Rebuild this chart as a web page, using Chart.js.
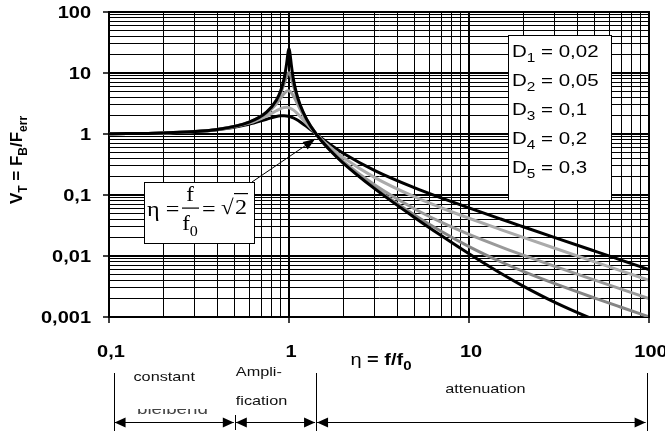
<!DOCTYPE html>
<html>
<head>
<meta charset="utf-8">
<script src="https://cdn.jsdelivr.net/npm/chart.js@4.4.1/dist/chart.umd.min.js"></script>
<style>
  html, body { margin: 0; padding: 0; background: #fff; }
  #c { display: block; }
</style>
</head>
<body>
<canvas id="c" width="665" height="434"></canvas>
<script>
// frequency ratio eta = f/f0 (x values)
var eta = [0.1, 0.2, 0.4, 0.6, 0.75, 0.85, 0.9, 0.94, 0.97, 0.99, 1.0, 1.01, 1.03, 1.06, 1.1,
           1.15, 1.25, 1.414, 1.7, 2, 3, 5, 7, 10, 15, 20, 30, 50, 70, 100];

// damping ratios and transmissibility V_T
var damping = [0.02, 0.05, 0.1, 0.2, 0.3];
var vtD1 = [1.010, 1.042, 1.190, 1.562, 2.281, 3.579, 5.175, 8.181, 14.16, 22.58, 25.02, 22.18, 13.61, 7.660, 4.665,
            3.073, 1.773, 1.000, 0.530, 0.3343, 0.1259, 0.04249, 0.02163, 0.01088, 0.005206, 0.003210, 0.001738, 0.000895, 0.000607, 0.000412];
var vtD2 = [1.010, 1.042, 1.190, 1.559, 2.259, 3.458, 4.776, 6.713, 8.845, 9.951, 10.05, 9.760, 8.402, 6.176, 4.244,
            2.940, 1.749, 1.000, 0.5345, 0.3392, 0.1304, 0.04658, 0.02543, 0.01428, 0.008048, 0.005604, 0.003518, 0.002040, 0.001443, 0.001005];
var vtD3 = [1.010, 1.042, 1.189, 1.547, 2.186, 3.117, 3.882, 4.602, 5.023, 5.123, 5.099, 5.026, 4.753, 4.166, 3.367,
            2.590, 1.675, 1.000, 0.5500, 0.3559, 0.1454, 0.05888, 0.03583, 0.02258, 0.01412, 0.01033, 0.006766, 0.004022, 0.002865, 0.002003];
var vtD4 = [1.010, 1.041, 1.184, 1.505, 1.968, 2.407, 2.611, 2.714, 2.733, 2.713, 2.693, 2.666, 2.597, 2.459, 2.241,
            1.959, 1.486, 1.000, 0.6021, 0.4125, 0.1931, 0.09285, 0.06184, 0.04161, 0.02715, 0.02020, 0.01339, 0.008013, 0.005719, 0.004002];
var vtD5 = [1.010, 1.041, 1.177, 1.447, 1.747, 1.933, 1.985, 1.994, 1.978, 1.957, 1.944, 1.929, 1.893, 1.829, 1.730,
            1.595, 1.333, 1.000, 0.6651, 0.4834, 0.2511, 0.1307, 0.08960, 0.06133, 0.04039, 0.03017, 0.02005, 0.01201, 0.008575, 0.006001];
var lineColors = ['#000000', '#858585', '#9a9a9a', '#ababab', '#000000'];

// tick labels
var yTickValues = [0.001, 0.01, 0.1, 1, 10, 100];
var yTickLabels = ['0,001', '0,01', '0,1', '1', '10', '100'];
var xTickValues = [0.1, 1, 10, 100];
var xTickLabels = ['0,1', '1', '10', '100'];

// ranges marked under the axis
var regionBounds = [0.106, 0.5, 1.414, 97];
var regionNames = ['constant', 'Ampli-|fication', 'attenuation'];

var SX = 1.25; // text in the picture is a bit wide
var SANS = '"Liberation Sans", Arial, sans-serif';
var SERIF = '"Liberation Serif", "Times New Roman", serif';

function isDecade(v) {
  var l = Math.log10(v);
  return Math.abs(l - Math.round(l)) < 1e-9;
}
function logGrid(lo, hi) {
  var out = [];
  for (var e = Math.round(Math.log10(lo)); e < Math.round(Math.log10(hi)); e++) {
    for (var k = 1; k < 10; k++) out.push({ value: +(k * Math.pow(10, e)).toPrecision(6) });
  }
  out.push({ value: hi });
  return out;
}
function fmtComma(v) { return String(v).replace('.', ','); }

// draw text made of [text, isSub] parts, x aligned per align, y = baseline
function rich(ctx, parts, x, y, size, o) {
  o = o || {};
  var sx = o.sx == null ? SX : o.sx;
  var fam = o.family || SANS;
  var w = o.bold ? 'bold ' : '';
  ctx.save();
  ctx.translate(x, y);
  if (o.rot) ctx.rotate(o.rot);
  ctx.scale(sx, 1);
  ctx.fillStyle = o.color || '#000';
  ctx.textBaseline = 'alphabetic';
  ctx.textAlign = 'left';
  var fonts = parts.map(function (p) {
    var pw = p[2] != null ? p[2] : w;
    return pw + (p[1] ? Math.round(size * 0.72) : size) + 'px ' + fam;
  });
  var total = 0;
  parts.forEach(function (p, i) { ctx.font = fonts[i]; total += ctx.measureText(p[0]).width; });
  var cx = o.align === 'center' ? -total / 2 : o.align === 'right' ? -total : 0;
  parts.forEach(function (p, i) {
    ctx.font = fonts[i];
    ctx.fillText(p[0], cx, p[1] ? size * 0.32 : 0);
    cx += ctx.measureText(p[0]).width;
  });
  ctx.restore();
}

function arrowHead(ctx, x, y, dir) {
  ctx.beginPath();
  ctx.moveTo(x, y);
  ctx.lineTo(x - dir * 11, y - 5);
  ctx.lineTo(x - dir * 11, y + 5);
  ctx.closePath();
  ctx.fill();
}

var decor = {
  id: 'decor',
  afterDatasetsDraw: function (chart) {
    var ctx = chart.ctx, a = chart.chartArea;
    var xs = chart.scales.x, ys = chart.scales.y;
    ctx.save();
    // top / right frame
    ctx.strokeStyle = '#000';
    ctx.lineWidth = 2;
    ctx.beginPath();
    ctx.moveTo(a.left, a.top); ctx.lineTo(a.right, a.top); ctx.lineTo(a.right, a.bottom);
    ctx.stroke();

    // damping box
    ctx.fillStyle = '#fff';
    ctx.fillRect(508, 35, 104, 166);
    ctx.lineWidth = 1;
    ctx.strokeRect(508.5, 35.5, 103, 165);
    damping.forEach(function (d, i) {
      rich(ctx, [['D'], [String(i + 1), true], [' = ' + fmtComma(d)]], 512, 57 + i * 29, 16, { sx: 1.28 });
    });

    // eta = sqrt(2) box and arrow
    ctx.fillStyle = '#fff';
    ctx.fillRect(144, 182, 111, 62);
    ctx.strokeStyle = '#000';
    ctx.lineWidth = 1;
    ctx.strokeRect(144.5, 182.5, 110, 61);
    var tipX = xs.getPixelForValue(Math.SQRT2) - 1;
    var tipY = ys.getPixelForValue(1) + 5;
    var sx0 = 252, sy0 = 182;
    ctx.beginPath();
    ctx.moveTo(sx0, sy0); ctx.lineTo(tipX, tipY);
    ctx.stroke();
    var ang = Math.atan2(tipY - sy0, tipX - sx0);
    ctx.fillStyle = '#000';
    ctx.beginPath();
    ctx.moveTo(tipX, tipY);
    ctx.lineTo(tipX - 12 * Math.cos(ang) + 4.5 * Math.sin(ang), tipY - 12 * Math.sin(ang) - 4.5 * Math.cos(ang));
    ctx.lineTo(tipX - 12 * Math.cos(ang) - 4.5 * Math.sin(ang), tipY - 12 * Math.sin(ang) + 4.5 * Math.cos(ang));
    ctx.closePath();
    ctx.fill();

    rich(ctx, [['\u03b7 =']], 147, 216, 21, { family: SERIF, sx: 1.15 });
    rich(ctx, [['f']], 190, 201, 20, { family: SERIF, align: 'center', sx: 1.15 });
    ctx.fillRect(182, 207.5, 17, 1.2);
    rich(ctx, [['f'], ['0', true]], 190, 230, 20, { family: SERIF, align: 'center', sx: 1.15 });
    rich(ctx, [['=']], 202, 216, 21, { family: SERIF, sx: 1.15 });
    rich(ctx, [['\u221a']], 221, 214, 21, { family: SERIF, sx: 1.1 });
    ctx.fillRect(234, 193, 14, 1.2);
    rich(ctx, [['2']], 235, 214, 22, { family: SERIF, sx: 1.1 });
    ctx.restore();
  },
  afterDraw: function (chart) {
    var ctx = chart.ctx;
    var xs = chart.scales.x, ys = chart.scales.y;
    ctx.save();
    // tick labels
    yTickValues.forEach(function (v, i) {
      rich(ctx, [[yTickLabels[i]]], 91, ys.getPixelForValue(v) + 6, 16, { bold: true, align: 'right' });
    });
    xTickValues.forEach(function (v, i) {
      rich(ctx, [[xTickLabels[i]]], xs.getPixelForValue(v) + 2, 357, 16, { bold: true, align: 'center' });
    });
    // axis titles
    rich(ctx, [['\u03b7 ', false, ''], ['= f/f'], ['0', true]], 381, 365, 16, { bold: true, align: 'center' });
    rich(ctx, [['V'], ['T', true], [' = F'], ['B', true], ['/F'], ['err', true]], 22, 160, 17,
         { bold: true, align: 'center', rot: -Math.PI / 2, sx: 1 });

    // ranges below the axis
    var bx = regionBounds.map(function (v) { return xs.getPixelForValue(v); });
    ctx.strokeStyle = '#000';
    ctx.fillStyle = '#000';
    ctx.lineWidth = 1;
    [0, 2, 3].forEach(function (i) {
      ctx.beginPath(); ctx.moveTo(Math.round(bx[i]) + 0.5, 373); ctx.lineTo(Math.round(bx[i]) + 0.5, 431); ctx.stroke();
    });
    ctx.beginPath(); ctx.moveTo(Math.round(bx[1]) + 0.5, 415); ctx.lineTo(Math.round(bx[1]) + 0.5, 430); ctx.stroke();
    var ay = 422.5;
    for (var i = 0; i < 3; i++) {
      var l = bx[i] + 1, r = bx[i + 1] - 1;
      ctx.beginPath(); ctx.moveTo(l, ay); ctx.lineTo(r, ay); ctx.stroke();
      arrowHead(ctx, l, ay, -1);
      arrowHead(ctx, r, ay, 1);
    }
    rich(ctx, [[regionNames[0]]], (bx[0] + bx[1]) / 2 - 10, 381, 13, { align: 'center', color: '#111' });
    var amp = regionNames[1].split('|');
    rich(ctx, [[amp[0]]], bx[1] + 1, 376, 13, { color: '#111' });
    rich(ctx, [[amp[1]]], bx[1] + 1, 405, 13, { color: '#111' });
    rich(ctx, [[regionNames[2]]], (bx[2] + bx[3]) / 2 + 4, 393, 13, { align: 'center', color: '#111' });
    // leftover of an older caption, only its lower edge shows
    ctx.save();
    ctx.beginPath(); ctx.rect(120, 409, 110, 5); ctx.clip();
    rich(ctx, [['bleibend']], 137, 414, 15, { color: '#444' });
    ctx.restore();
    ctx.restore();
  }
};

var curves = [vtD1, vtD2, vtD3, vtD4, vtD5];
var datasets = curves.map(function (vals, i) {
  return {
    label: 'D' + (i + 1) + ' = ' + fmtComma(damping[i]),
    data: eta.map(function (x, j) { return { x: x, y: vals[j] }; }),
    borderColor: lineColors[i],
    borderWidth: 3,
    pointRadius: 0,
    fill: false,
    clip: 0,
    cubicInterpolationMode: 'monotone'
  };
});

function gridOpts() {
  return {
    color: '#000',
    lineWidth: function (c) { return c.tick && isDecade(c.tick.value) ? 2 : 1; },
    drawTicks: true,
    tickLength: 6,
    tickWidth: 1.5,
    tickColor: function (c) { return c.tick && isDecade(c.tick.value) ? '#000' : 'rgba(0,0,0,0)'; }
  };
}

new Chart(document.getElementById('c'), {
  type: 'line',
  data: { datasets: datasets },
  options: {
    responsive: false,
    animation: false,
    layout: { padding: { left: 103, top: 12, right: 16, bottom: 111 } },
    plugins: { legend: { display: false }, tooltip: { enabled: false } },
    scales: {
      x: {
        type: 'logarithmic', min: 0.1, max: 100,
        afterBuildTicks: function (s) { s.ticks = logGrid(0.1, 100); },
        ticks: { display: false },
        grid: gridOpts(),
        border: { color: '#000', width: 2 }
      },
      y: {
        type: 'logarithmic', min: 0.001, max: 100,
        afterBuildTicks: function (s) { s.ticks = logGrid(0.001, 100); },
        ticks: { display: false },
        grid: gridOpts(),
        border: { color: '#000', width: 2 }
      }
    }
  },
  plugins: [decor]
});
</script>
</body>
</html>
